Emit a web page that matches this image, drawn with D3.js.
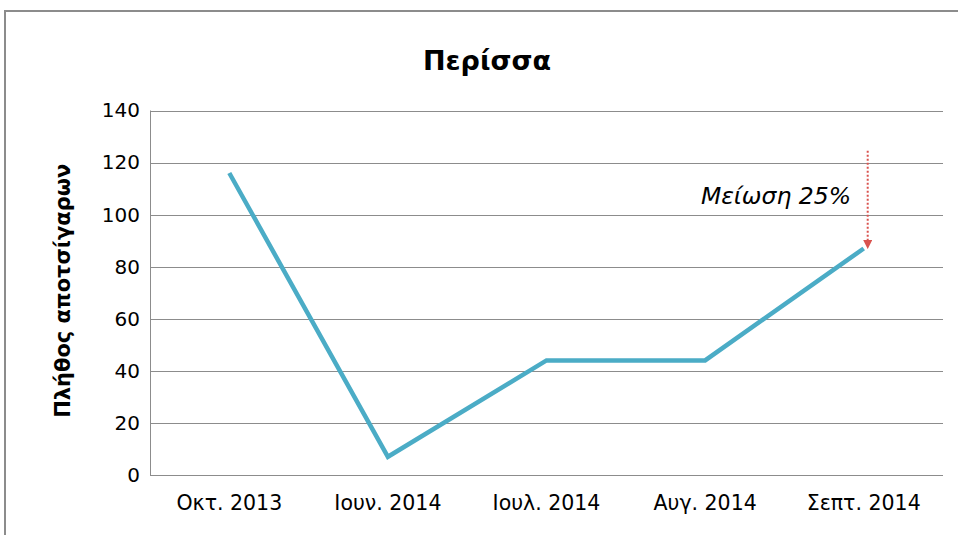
<!DOCTYPE html>
<html>
<head>
<meta charset="utf-8">
<script src="https://cdn.jsdelivr.net/npm/d3@7"></script>
<style>
  body { margin: 0; background: #fff; }
  text { font-family: "DejaVu Sans", "Open Sans", sans-serif; fill: #000; }
</style>
</head>
<body>
<svg id="chart"></svg>
<script>
var months = ["Οκτ. 2013", "Ιουν. 2014", "Ιουλ. 2014", "Αυγ. 2014", "Σεπτ. 2014"];
var butts = [116, 7, 44, 44, 87];
var yTicks = [0, 20, 40, 60, 80, 100, 120, 140];

var width = 958, height = 535;
var margin = { top: 110.5, right: 15, bottom: 60, left: 150 };
var plotRight = 943;
var fontFam = "'DejaVu Sans', 'Open Sans', sans-serif";

var svg = d3.select("#chart")
  .attr("width", width)
  .attr("height", height);

// chart frame
svg.append("rect")
  .attr("x", 5).attr("y", 11)
  .attr("width", 970).attr("height", 560)
  .attr("fill", "none")
  .attr("stroke", "#8c8c8c")
  .attr("stroke-width", 2);

var x = d3.scaleBand()
  .domain(months)
  .range([margin.left, plotRight])
  .padding(0);

var y = d3.scaleLinear()
  .domain([0, 140])
  .range([475, margin.top]);

// gridlines
svg.append("g")
  .selectAll("line")
  .data(yTicks)
  .enter().append("line")
  .attr("x1", margin.left).attr("x2", plotRight)
  .attr("y1", function (d) { return Math.round(y(d)) + 0.5; })
  .attr("y2", function (d) { return Math.round(y(d)) + 0.5; })
  .attr("stroke", "#8c8c8c")
  .attr("stroke-width", 1);

// left axis line
svg.append("line")
  .attr("x1", margin.left + 0.5).attr("x2", margin.left + 0.5)
  .attr("y1", y(140)).attr("y2", y(0))
  .attr("stroke", "#8c8c8c");

var yAxis = d3.axisLeft(y).tickValues(yTicks).tickSize(0).tickPadding(10);
svg.append("g")
  .attr("transform", "translate(" + margin.left + ",0)")
  .call(yAxis)
  .call(function (g) { g.select(".domain").remove(); })
  .selectAll("text")
  .style("font-size", "20px")
  .style("font-family", fontFam)
  .attr("fill", "#000");

var xAxis = d3.axisBottom(x).tickSize(0).tickPadding(20);
svg.append("g")
  .attr("transform", "translate(0," + y(0) + ")")
  .call(xAxis)
  .call(function (g) { g.select(".domain").remove(); })
  .selectAll("text")
  .style("font-size", "20.5px")
  .style("font-family", fontFam)
  .attr("fill", "#000");

// line
var line = d3.line()
  .x(function (d, i) { return x(months[i]) + x.bandwidth() / 2; })
  .y(function (d) { return y(d); });

svg.append("path")
  .datum(butts)
  .attr("d", line)
  .attr("fill", "none")
  .attr("stroke", "#4bacc6")
  .attr("stroke-width", 4.5)
  .attr("stroke-linejoin", "miter");

// title
svg.append("text")
  .attr("x", 487).attr("y", 70)
  .attr("text-anchor", "middle")
  .style("font-size", "27px")
  .style("font-weight", "bold")
  .text("Περίσσα");

// y label
svg.append("text")
  .attr("transform", "translate(70," + (y(70) - 2) + ") rotate(-90)")
  .attr("text-anchor", "middle")
  .style("font-size", "21px")
  .style("font-weight", "bold")
  .text("Πλήθος αποτσίγαρων");

// annotation
var last = months[months.length - 1];
var ax = x(last) + x.bandwidth() / 2 + 4;
svg.append("defs").append("marker")
  .attr("id", "arrow")
  .attr("viewBox", "0 0 10 10")
  .attr("refX", 5).attr("refY", 5)
  .attr("markerWidth", 4.5).attr("markerHeight", 4.5)
  .attr("orient", "auto")
  .append("path")
  .attr("d", "M0,0 L10,5 L0,10 z")
  .attr("fill", "#d9534f");

svg.append("line")
  .attr("x1", ax).attr("x2", ax)
  .attr("y1", y(124.5)).attr("y2", y(88.5))
  .attr("stroke", "#d9534f")
  .attr("stroke-width", 2)
  .attr("stroke-dasharray", "2,2")
  .attr("marker-end", "url(#arrow)");

svg.append("text")
  .attr("x", 851).attr("y", 204)
  .attr("text-anchor", "end")
  .style("font-size", "23.5px")
  .style("font-style", "italic")
  .text("Μείωση 25%");
</script>
</body>
</html>
